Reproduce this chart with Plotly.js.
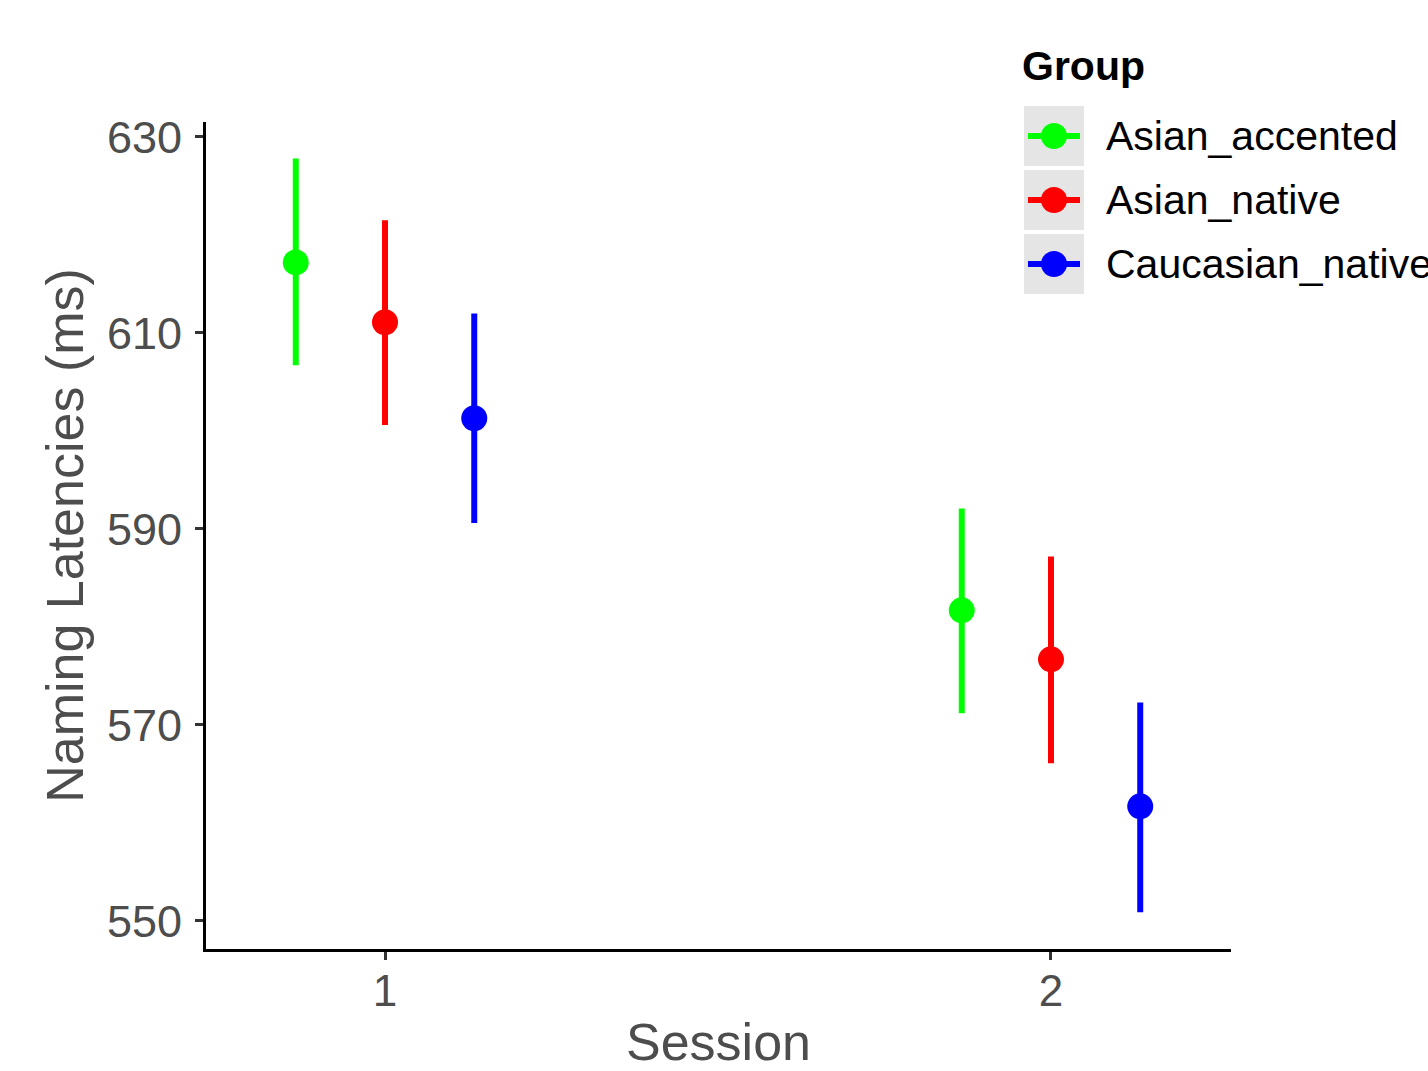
<!DOCTYPE html>
<html>
<head>
<meta charset="utf-8">
<script src="https://cdn.plot.ly/plotly-3.0.1.min.js"></script>
<style>html,body{margin:0;padding:0;background:#fff;}#chart{width:1428px;height:1071px;}</style>
</head>
<body>
<div id="chart"></div>
<script>
// Data
const sessions = [1, 2];
const groups = ["Asian_accented", "Asian_native", "Caucasian_native"];
const colors = ["#00ff00", "#ff0000", "#0000ff"];
const meanAsianAccented = [617.2, 581.7];
const upperAsianAccented = [627.8, 592.1];
const lowerAsianAccented = [606.7, 571.2];
const meanAsianNative = [611.1, 576.7];
const upperAsianNative = [621.5, 587.2];
const lowerAsianNative = [600.6, 566.1];
const meanCaucasianNative = [601.3, 561.7];
const upperCaucasianNative = [612.0, 572.3];
const lowerCaucasianNative = [590.6, 550.9];
const yTicks = [550, 570, 590, 610, 630];

const means = [meanAsianAccented, meanAsianNative, meanCaucasianNative];
const uppers = [upperAsianAccented, upperAsianNative, upperCaucasianNative];
const lowers = [lowerAsianAccented, lowerAsianNative, lowerCaucasianNative];
const dodge = [-0.134, 0, 0.134];

const FONT = "Liberation Sans, Arial, sans-serif";
const ML = 206, MR = 197, MT = 122, MB = 122;

const traces = groups.map((g, i) => ({
  type: "scatter",
  mode: "markers",
  name: g,
  x: sessions.map(s => s + dodge[i]),
  y: means[i],
  marker: {color: colors[i], size: 26},
  error_y: {
    type: "data",
    symmetric: false,
    array: uppers[i].map((u, k) => u - means[i][k]),
    arrayminus: lowers[i].map((l, k) => means[i][k] - l),
    color: colors[i],
    thickness: 6,
    width: 0
  },
  hoverinfo: "x+y"
}));

// Manual ggplot-style legend (paper coordinates from pixel positions)
const PW = 1428 - ML - MR, PH = 1071 - MT - MB;
const px = (p) => (p - ML) / PW;
const py = (p) => (1071 - MB - p) / PH;
const keyBoxes = [[106, 166], [170, 230], [234, 294]];
const shapes = [];
const annotations = [{
  xref: "paper", yref: "paper", x: px(1020), y: py(66),
  xanchor: "left", yanchor: "middle", showarrow: false,
  text: "<b>Group</b>", font: {size: 41, color: "#000000", family: FONT}
}];
keyBoxes.forEach((b, i) => {
  const cy = (b[0] + b[1]) / 2;
  shapes.push({
    type: "rect", xref: "paper", yref: "paper", layer: "below",
    x0: px(1024), x1: px(1084), y0: py(b[1]), y1: py(b[0]),
    fillcolor: "#e5e5e5", line: {width: 0}
  });
  shapes.push({
    type: "line", xref: "paper", yref: "paper",
    x0: px(1028), x1: px(1080), y0: py(cy), y1: py(cy),
    line: {color: colors[i], width: 6}
  });
  shapes.push({
    type: "circle", xref: "paper", yref: "paper",
    xsizemode: "pixel", ysizemode: "pixel",
    xanchor: px(1054), yanchor: py(cy),
    x0: -13, x1: 13, y0: -13, y1: 13,
    fillcolor: colors[i], line: {width: 0}
  });
  annotations.push({
    xref: "paper", yref: "paper", x: px(1104), y: py(cy),
    xanchor: "left", yanchor: "middle", showarrow: false,
    text: groups[i], font: {size: 41, color: "#000000", family: FONT}
  });
});

const layout = {
  width: 1428, height: 1071,
  margin: {l: ML, r: MR, t: MT, b: MB},
  paper_bgcolor: "#ffffff",
  plot_bgcolor: "#ffffff",
  font: {family: FONT, color: "#4d4d4d"},
  showlegend: false,
  xaxis: {
    range: [0.7312, 2.2703],
    tickvals: sessions,
    ticktext: sessions.map(String),
    showgrid: false, zeroline: false,
    showline: true, linecolor: "#000000", linewidth: 3,
    ticks: "outside", ticklen: 8, tickwidth: 3, tickcolor: "#333333",
    ticklabelstandoff: -7,
    tickfont: {size: 44, color: "#4d4d4d", family: FONT},
    title: {text: "Session", font: {size: 52, color: "#4d4d4d", family: FONT}, standoff: 32},
    automargin: false
  },
  yaxis: {
    range: [547.14, 631.53],
    tickvals: yTicks,
    ticktext: yTicks.map(String),
    showgrid: false, zeroline: false,
    showline: true, linecolor: "#000000", linewidth: 3,
    ticks: "outside", ticklen: 8, tickwidth: 3, tickcolor: "#333333",
    ticklabelstandoff: 4,
    tickfont: {size: 45, color: "#4d4d4d", family: FONT},
    title: {text: "Naming Latencies (ms)", font: {size: 52, color: "#4d4d4d", family: FONT}, standoff: 7},
    automargin: false
  },
  shapes: shapes,
  annotations: annotations
};

Plotly.newPlot("chart", traces, layout, {displayModeBar: false, staticPlot: true});
</script>
</body>
</html>
